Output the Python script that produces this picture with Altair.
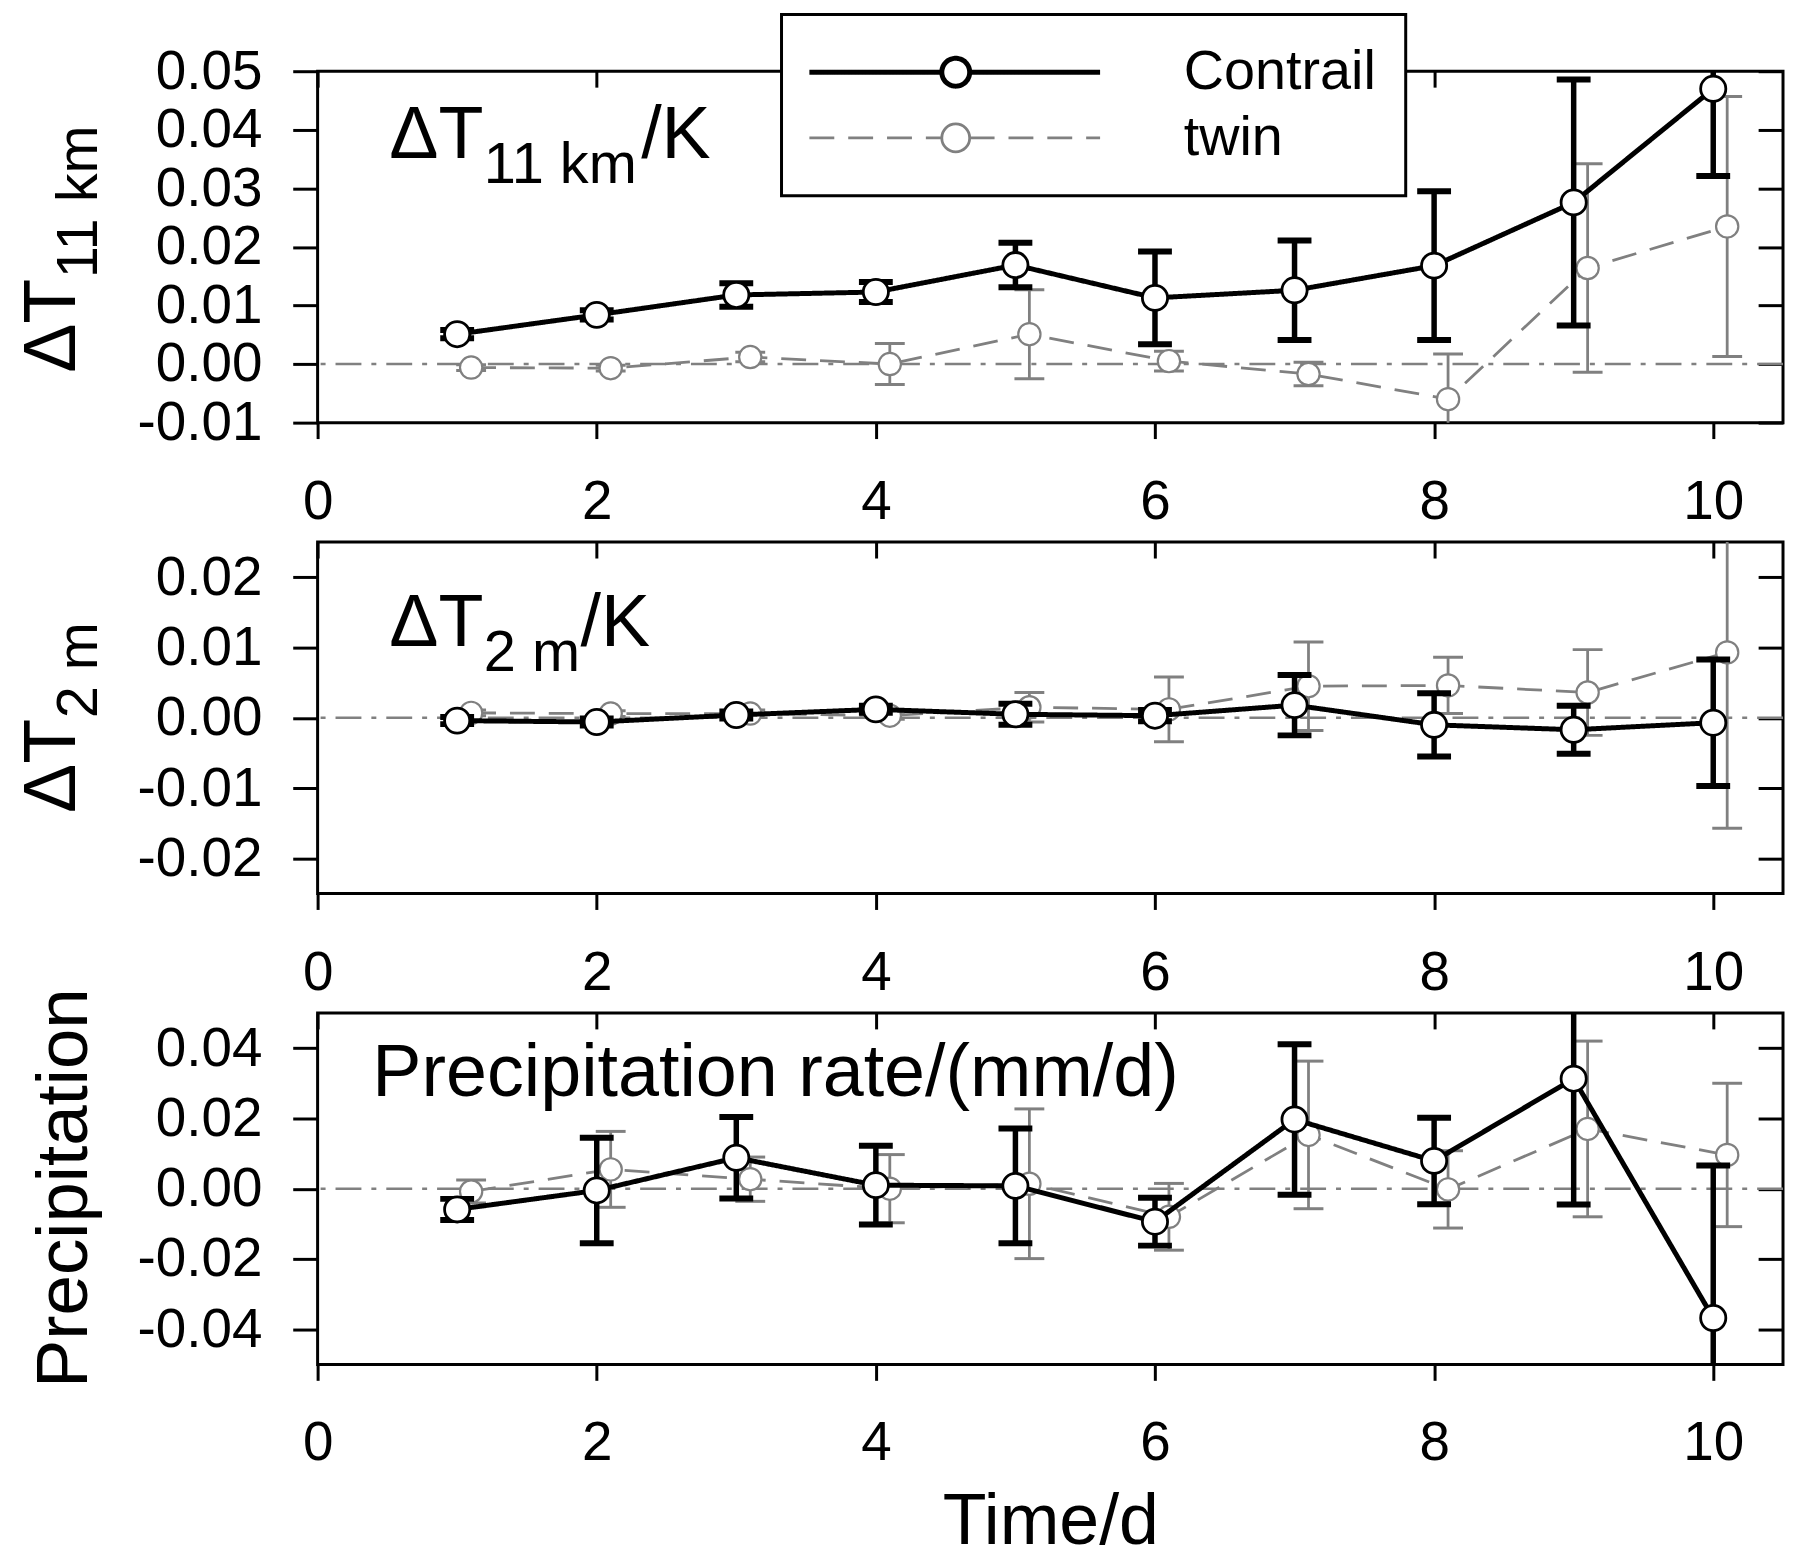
import altair as alt
import pandas as pd

# days 1..10, the twin run is drawn a little to the right of each day
days = [1, 2, 3, 4, 5, 6, 7, 8, 9, 10]
shift = 0.1
xticks = [0, 2, 4, 6, 8, 10]
series = ["Contrail", "twin"]

# dT at 11 km (K)
t11_contrail = [0.0051, 0.0084, 0.0118, 0.0123, 0.0169, 0.0113, 0.0126, 0.0168, 0.0276, 0.0470]
t11_contrail_err = [0.0007, 0.0008, 0.0020, 0.0017, 0.0038, 0.0079, 0.0085, 0.0127, 0.0210, 0.0149]
t11_twin = [-0.0006, -0.0007, 0.0012, 0.0000, 0.0051, 0.0005, -0.0017, -0.0060, 0.0164, 0.0235]
t11_twin_err = [0.0005, 0.0005, 0.0008, 0.0035, 0.0076, 0.0017, 0.0020, 0.0077, 0.0178, 0.0222]

# dT at 2 m (K)
t2_contrail = [-0.0004, -0.0006, 0.0004, 0.0012, 0.0005, 0.0003, 0.0018, -0.0010, -0.0017, -0.0007]
t2_contrail_err = [0.0005, 0.0005, 0.0005, 0.0005, 0.0015, 0.0008, 0.0043, 0.0045, 0.0034, 0.0090]
t2_twin = [0.0007, 0.0006, 0.0006, 0.0003, 0.0015, 0.0012, 0.0045, 0.0046, 0.0036, 0.0093]
t2_twin_err = [0.0004, 0.0004, 0.0005, 0.0005, 0.0021, 0.0046, 0.0063, 0.0040, 0.0061, 0.0250]

# precipitation rate (mm/d)
pr_contrail = [-0.0059, -0.0005, 0.0088, 0.0010, 0.0008, -0.0094, 0.0197, 0.0079, 0.0313, -0.0368]
pr_contrail_err = [0.0030, 0.0150, 0.0116, 0.0112, 0.0163, 0.0068, 0.0214, 0.0123, 0.0358, 0.0434]
pr_twin = [-0.0008, 0.0055, 0.0027, 0.0000, 0.0014, -0.0080, 0.0153, -0.0002, 0.0170, 0.0096]
pr_twin_err = [0.0033, 0.0108, 0.0063, 0.0097, 0.0213, 0.0095, 0.0210, 0.0110, 0.0250, 0.0204]

FONT = "Liberation Sans"
GREY = "#808080"
W, H = 1472, 353

# legend symbol: line with an open circle in the middle (units of sqrt(size)/2),
# the circle is split in quarter arcs so a dash pattern leaves it whole
R = 0.56
SYM = (
    f"M-5.88,0L-{R},0M{R},0L5.8,0"
    f"M{R},0A{R},{R},0,0,1,0,{R}"
    f"M0,{R}A{R},{R},0,0,1,-{R},0"
    f"M-{R},0A{R},{R},0,0,1,0,-{R}"
    f"M0,-{R}A{R},{R},0,0,1,{R},0"
)

one = pd.DataFrame({"k": [0]})


def text_layer(txt, size, px, py, angle=0, align="left"):
    return alt.Chart(one).mark_text(
        text=txt, fontSize=size, font=FONT, color="black", align=align,
        baseline="alphabetic", angle=angle,
    ).encode(x=alt.value(px), y=alt.value(py))


def panel(c_mean, c_err, t_mean, t_err, ydom, yticks, notes, ytitle, first=False, last=False):
    dc = pd.DataFrame({"day": days, "val": c_mean, "err": c_err, "series": "Contrail"})
    dt = pd.DataFrame({"day": [d + shift for d in days], "val": t_mean, "err": t_err, "series": "twin"})
    for d in (dc, dt):
        d["lo"] = d["val"] - d["err"]
        d["hi"] = d["val"] + d["err"]

    xs = alt.Scale(domain=[0, 10.5], nice=False, zero=False)
    ys = alt.Scale(domain=ydom, nice=False, zero=False)
    xn = alt.X("day:Q", scale=xs, axis=None)
    yn = alt.Y("val:Q", scale=ys, axis=None)

    if first:
        leg = alt.Legend(
            title=None, orient="none", legendX=466, legendY=-57,
            symbolType=SYM, symbolSize=2500, symbolFillColor="white", symbolOpacity=1,
            symbolOffset=117, labelOffset=201, labelLimit=600,
            labelFont=FONT, labelFontSize=56, labelColor="black",
            rowPadding=10, padding=30, strokeColor="black", fillColor="white",
        )
    else:
        leg = None
    col = alt.Color("series:N", scale=alt.Scale(domain=series, range=["black", GREY]), legend=leg)
    dash = alt.StrokeDash("series:N", scale=alt.Scale(domain=series, range=[[1, 0], [25, 14]]), legend=leg)
    sw = alt.StrokeWidth("series:N", scale=alt.Scale(domain=series, range=[5, 2.8]), legend=leg)

    zero = alt.Chart(one).mark_rule(color=GREY, strokeWidth=2.5, strokeDash=[26, 10, 5, 10]).encode(
        y=alt.YDatum(0, scale=ys, axis=None)
    )

    def series_layers(d, color, rule_w, cap_w, cap_t, pt_size, pt_w, axes):
        line = alt.Chart(d).mark_line(clip=True).encode(x=xn, y=yn, color=col, strokeDash=dash, strokeWidth=sw)
        bar = alt.Chart(d).mark_rule(clip=True, color=color, strokeWidth=rule_w).encode(
            x=xn, y=alt.Y("lo:Q", scale=ys, axis=None), y2="hi:Q")
        cap_lo = alt.Chart(d).mark_tick(clip=True, color=color, orient="horizontal", size=cap_w,
                                        thickness=cap_t, opacity=1).encode(
            x=xn, y=alt.Y("lo:Q", scale=ys, axis=None))
        cap_hi = alt.Chart(d).mark_tick(clip=True, color=color, orient="horizontal", size=cap_w,
                                        thickness=cap_t, opacity=1).encode(
            x=xn, y=alt.Y("hi:Q", scale=ys, axis=None))
        pts = alt.Chart(d).mark_point(shape="circle", filled=False, fill="white", fillOpacity=1,
                                      stroke=color, strokeWidth=pt_w, size=pt_size, opacity=1).encode(
            x=alt.X("day:Q", scale=xs, axis=axes[0]), y=alt.Y("val:Q", scale=ys, axis=axes[1]))
        return [line, bar, cap_lo, cap_hi, pts]

    # main axes (bottom, left) and mirrored tick-only axes moved to top and right
    x_main = alt.Axis(values=xticks, orient="bottom", format="d", tickSize=16, labelPadding=37,
                      title="Time/d" if last else None, titleFontSize=72, titleFontWeight="normal",
                      titlePadding=16, labelFlush=False, labelOverlap=False)
    y_main = alt.Axis(values=yticks, orient="left", format=".2f", tickSize=25, labelPadding=31, title=None,
                      labelExpr="replace(datum.label, '\u2212', '-')", labelOverlap=False)
    x_top = alt.Axis(values=xticks, orient="bottom", offset=-H, labels=False, tickSize=16, title=None)
    y_right = alt.Axis(values=yticks, orient="left", offset=-W, labels=False, tickSize=25, title=None)

    layers = [zero]
    layers += series_layers(dt, GREY, 2.8, 30, 3, 500, 2.2, (x_top, y_right))
    layers += series_layers(dc, "black", 5.5, 34, 6, 640, 2.8, (x_main, y_main))
    for n in notes:
        layers.append(text_layer(*n))
    for t in ytitle:
        layers.append(text_layer(*t))

    return alt.layer(*layers).resolve_axis(x="independent", y="independent").properties(width=W, height=H)


p1 = panel(
    t11_contrail, t11_contrail_err, t11_twin, t11_twin_err,
    [-0.01, 0.05], [-0.01, 0.0, 0.01, 0.02, 0.03, 0.04, 0.05],
    [("\u0394T", 74, 72, 87), ("11 km", 58, 167, 112), ("/K", 74, 325, 87)],
    [("\u0394T", 74, -244, 303, 270), ("11 km", 58, -222, 208, 270)],
    first=True,
)
p2 = panel(
    t2_contrail, t2_contrail_err, t2_twin, t2_twin_err,
    [-0.025, 0.025], [-0.02, -0.01, 0.0, 0.01, 0.02],
    [("\u0394T", 74, 72, 104), ("2 m", 58, 167, 129), ("/K", 74, 264, 104)],
    [("\u0394T", 74, -244, 272, 270), ("2 m", 58, -222, 177, 270)],
)
p3 = panel(
    pr_contrail, pr_contrail_err, pr_twin, pr_twin_err,
    [-0.05, 0.05], [-0.04, -0.02, 0.0, 0.02, 0.04],
    [("Precipitation rate/(mm/d)", 74, 55, 83)],
    [("Precipitation", 73, -232, 176, 270, "center")],
    last=True,
)

chart = (
    alt.vconcat(p1, p2, p3, spacing=120, bounds="flush")
    .resolve_scale(color="independent", strokeDash="independent", strokeWidth="independent")
    .properties(padding={"left": 6, "top": 0, "right": 0, "bottom": 0})
    .configure(font=FONT)
    .configure_view(stroke="black", strokeWidth=3)
    .configure_legend(strokeWidth=3)
    .configure_axis(labelFont=FONT, titleFont=FONT, labelColor="black", titleColor="black",
                    tickColor="black", tickWidth=3, labelFontSize=55, domain=False, grid=False)
)

chart.save("out.html", embed_options={"renderer": "svg", "actions": False})
